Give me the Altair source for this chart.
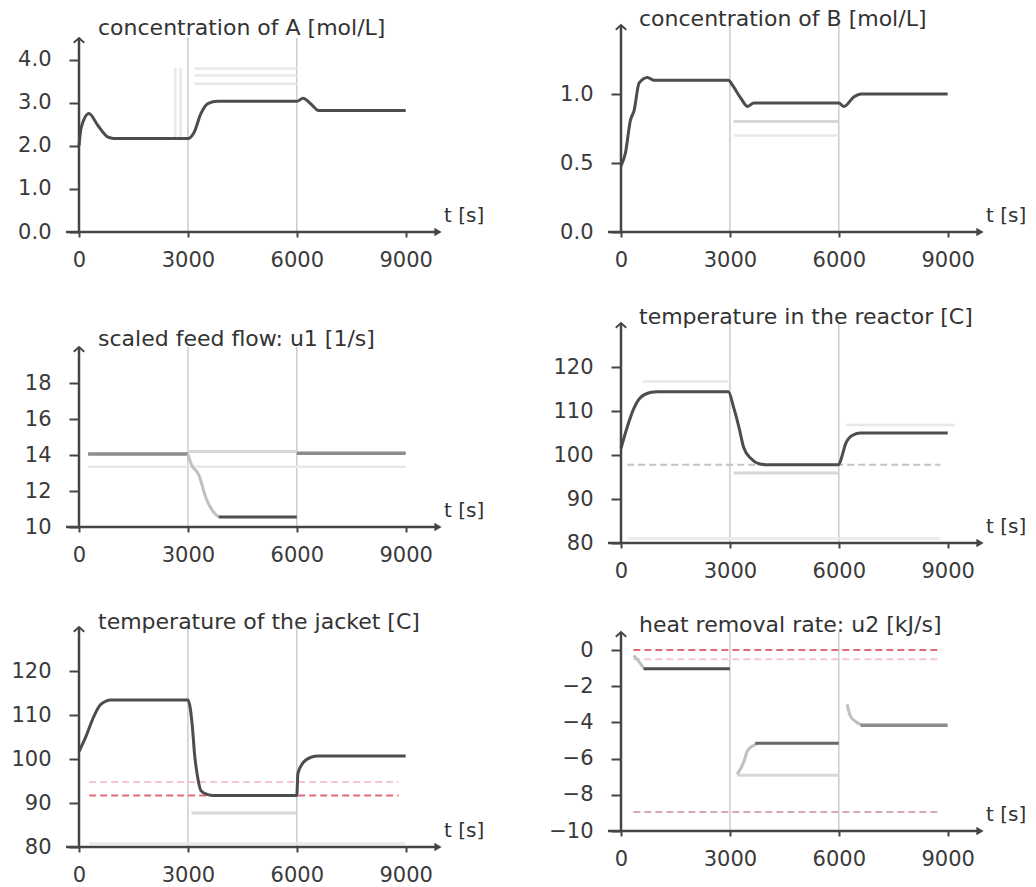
import altair as alt
import pandas as pd

FONT = "DejaVu Sans"

# ---------------- data ----------------
T_TICKS = [0, 3000, 6000, 9000]
GRID_T = [3000, 6000]
X_LABEL = "t [s]"

TITLES = ["concentration of A [mol/L]", "concentration of B [mol/L]",
          "scaled feed flow: u1 [1/s]", "temperature in the reactor [C]",
          "temperature of the jacket [C]", "heat removal rate: u2 [kJ/s]"]
Y_DOMAINS = [[0, 4.5], [0, 1.5], [10, 20], [80, 130], [80, 130], [-10, 1]]
Y_TICKS = [[0, 1, 2, 3, 4], [0, 0.5, 1.0], [10, 12, 14, 16, 18],
           [80, 90, 100, 110, 120], [80, 90, 100, 110, 120], [0, -2, -4, -6, -8, -10]]
Y_FORMATS = [".1f", ".1f", "d", "d", "d", "d"]

# concentration of A
CA_T = [0, 60, 275, 520, 800, 950, 3000, 3170, 3360, 3550, 3820, 6000, 6170, 6390, 6600, 9000]
CA_V = [2.00, 2.42, 2.75, 2.47, 2.20, 2.17, 2.17, 2.31, 2.75, 2.98, 3.03, 3.03, 3.10, 2.97, 2.82, 2.82]
CA_PRED_T = [3170, 6000]
CA_PRED1_V = [3.79, 3.79]
CA_PRED2_V = [3.63, 3.63]
CA_PRED3_V = [3.44, 3.44]
CA_EDGE1_T = [2650, 2650]
CA_EDGE2_T = [2800, 2800]
CA_EDGE_V = [2.2, 3.8]

# concentration of B
CB_T = [0, 120, 260, 360, 500, 730, 900, 2960, 3080, 3300, 3490, 3660, 6000, 6140, 6420, 6610, 9000]
CB_V = [0.48, 0.57, 0.81, 0.88, 1.08, 1.12, 1.10, 1.10, 1.06, 0.97, 0.91, 0.935, 0.935, 0.91, 0.98, 1.00, 1.00]
CB_PRED_T = [3100, 6000]
CB_PRED1_V = [0.80, 0.80]
CB_PRED2_V = [0.70, 0.70]

# feed flow u1
U1_HOLD1_T = [250, 3000]
U1_HOLD1_V = [14.05, 14.05]
U1_DROP_T = [3000, 3100, 3300, 3500, 3680, 3850]
U1_DROP_V = [14.05, 13.46, 12.9, 11.6, 10.9, 10.55]
U1_LOW_T = [3850, 6000]
U1_LOW_V = [10.55, 10.55]
U1_HOLD2_T = [6000, 9000]
U1_HOLD2_V = [14.1, 14.1]
U1_PRED_T = [3000, 6000]
U1_PRED_V = [14.2, 14.2]
U1_LOWER_T = [250, 9000]
U1_LOWER_V = [13.35, 13.35]

# reactor temperature
TR_T = [0, 170, 340, 530, 800, 1000, 2960, 3100, 3250, 3380, 3580, 3800, 4000, 6000, 6050, 6190, 6380, 6600, 9000]
TR_V = [101.5, 106.3, 110.3, 113.0, 114.2, 114.4, 114.4, 110.9, 106.3, 101.7, 99.2, 98.0, 97.8, 97.8, 98.7, 102.6, 104.5, 105.0, 105.0]
TR_REF_T = [170, 8800]
TR_REF_V = [97.8, 97.8]
TR_PRED_T = [3100, 6000]
TR_PRED_V = [95.9, 95.9]
TR_UP1_T = [600, 3000]
TR_UP1_V = [116.7, 116.7]
TR_UP2_T = [6200, 9200]
TR_UP2_V = [106.8, 106.8]
TR_LOW_T = [170, 8800]
TR_LOW_V = [81, 81]

# jacket temperature
TJ_T = [0, 190, 410, 600, 880, 3000, 3130, 3180, 3270, 3360, 3550, 3700, 6000, 6030, 6160, 6390, 6600, 9000]
TJ_V = [101.7, 105.1, 109.7, 112.4, 113.4, 113.4, 106.7, 101.4, 95.8, 92.8, 91.9, 91.7, 91.7, 96.7, 99.0, 100.4, 100.7, 100.7]
TJ_MIN_T = [280, 8800]
TJ_MIN_V = [91.7, 91.7]
TJ_MIN2_V = [94.8, 94.8]
TJ_PRED_T = [3100, 6000]
TJ_PRED_V = [87.7, 87.7]
TJ_LOW_T = [280, 9000]
TJ_LOW_V = [80.8, 80.8]

# heat removal u2
U2_S1_T = [350, 460, 620]
U2_S1_V = [-0.3, -0.55, -0.98]
U2_H1_T = [620, 3000]
U2_H1_V = [-1.03, -1.03]
U2_S2_T = [3200, 3380, 3480, 3650, 3750]
U2_S2_V = [-6.87, -6.2, -5.58, -5.27, -5.17]
U2_H2_T = [3700, 6000]
U2_H2_V = [-5.15, -5.15]
U2_S3_T = [6230, 6320, 6500, 6650]
U2_S3_V = [-3.0, -3.65, -4.0, -4.15]
U2_H3_T = [6600, 9000]
U2_H3_V = [-4.16, -4.16]
U2_PRED_T = [3200, 6000]
U2_PRED_V = [-6.92, -6.92]
U2_LIM_T = [340, 8800]
U2_MAX_V = [0, 0]
U2_MAX2_V = [-0.5, -0.5]
U2_MIN_V = [-8.95, -8.95]

# ---------------- styles ----------------
AXIS = "#454545"
LBL = "#3a3a3a"
STYLES = {
    "main": dict(color="#4d4d4d", strokeWidth=3, interpolate="monotone"),
    "dark2": dict(color="#686868", strokeWidth=3, interpolate="monotone"),
    "mid": dict(color="#8c8c8c", strokeWidth=3.5, interpolate="linear"),
    "light": dict(color="#c0c0c0", strokeWidth=3, interpolate="monotone"),
    "ghost": dict(color="#d8d8d8", strokeWidth=3, interpolate="linear"),
    "faint": dict(color="#e8e8e8", strokeWidth=2.5, interpolate="linear"),
    "red": dict(color="#e06a7c", strokeWidth=2, strokeDash=[7, 4], interpolate="linear"),
    "pink": dict(color="#f4c6ce", strokeWidth=2, strokeDash=[7, 4], interpolate="linear"),
    "refdash": dict(color="#c4c4c4", strokeWidth=2, strokeDash=[7, 4], interpolate="linear"),
    "bounddash": dict(color="#d6aab2", strokeWidth=2, strokeDash=[7, 4], interpolate="linear"),
}

PANEL_LINES = [
    [(CA_PRED_T, CA_PRED1_V, "faint"), (CA_PRED_T, CA_PRED2_V, "faint"), (CA_PRED_T, CA_PRED3_V, "faint"),
     (CA_EDGE1_T, CA_EDGE_V, "faint"), (CA_EDGE2_T, CA_EDGE_V, "faint"), (CA_T, CA_V, "main")],
    [(CB_PRED_T, CB_PRED1_V, "ghost"), (CB_PRED_T, CB_PRED2_V, "faint"), (CB_T, CB_V, "main")],
    [(U1_LOWER_T, U1_LOWER_V, "faint"), (U1_PRED_T, U1_PRED_V, "ghost"),
     (U1_HOLD1_T, U1_HOLD1_V, "mid"), (U1_DROP_T, U1_DROP_V, "light"),
     (U1_LOW_T, U1_LOW_V, "main"), (U1_HOLD2_T, U1_HOLD2_V, "mid")],
    [(TR_LOW_T, TR_LOW_V, "faint"), (TR_UP1_T, TR_UP1_V, "faint"), (TR_UP2_T, TR_UP2_V, "faint"),
     (TR_PRED_T, TR_PRED_V, "ghost"), (TR_REF_T, TR_REF_V, "refdash"), (TR_T, TR_V, "main")],
    [(TJ_LOW_T, TJ_LOW_V, "faint"), (TJ_PRED_T, TJ_PRED_V, "ghost"), (TJ_MIN_T, TJ_MIN2_V, "pink"),
     (TJ_MIN_T, TJ_MIN_V, "red"), (TJ_T, TJ_V, "main")],
    [(U2_LIM_T, U2_MAX2_V, "pink"), (U2_LIM_T, U2_MAX_V, "red"), (U2_LIM_T, U2_MIN_V, "bounddash"),
     (U2_PRED_T, U2_PRED_V, "ghost"), (U2_S1_T, U2_S1_V, "light"), (U2_H1_T, U2_H1_V, "main"),
     (U2_S2_T, U2_S2_V, "light"), (U2_H2_T, U2_H2_V, "dark2"), (U2_S3_T, U2_S3_V, "light"),
     (U2_H3_T, U2_H3_V, "mid")],
]

# ---------------- layout ----------------
W = 363
ROW_H = [207, 227, 220]
Y_RANGES = [[207, 13], [207, 0], [211, 31], [227, 7], [220, 0], [204, 5]]
X_OFFSETS = [0, 0, -16, 0, 0, -16]
TITLE_POS = [(19, 3), (18, -6), (19, 23), (18, 1), (19, -5), (18, -2)]


def make_panel(i):
    ymin, ymax = Y_DOMAINS[i]
    xs = alt.Scale(domain=[0, 10000], nice=False, zero=False)
    ys = alt.Scale(domain=Y_DOMAINS[i], range=Y_RANGES[i], nice=False, zero=False)
    xaxis = alt.Axis(values=T_TICKS, format="d", domain=False, grid=False, title=None,
                     tickSize=5, tickWidth=2, tickColor=AXIS, labelFont=FONT, labelFontSize=21,
                     labelColor=LBL, labelPadding=12, labelFlush=False, labelOverlap=False,
                     offset=X_OFFSETS[i])
    yaxis = alt.Axis(values=Y_TICKS[i], format=Y_FORMATS[i], domain=False, grid=False, title=None,
                     tickSize=10, tickWidth=2, tickColor=AXIS, labelFont=FONT, labelFontSize=21,
                     labelColor=LBL, labelPadding=18, labelFlush=False, labelOverlap=False)

    def X(f="t"):
        return alt.X(f"{f}:Q", scale=xs, axis=xaxis)

    def Y(f="v"):
        return alt.Y(f"{f}:Q", scale=ys, axis=yaxis)

    layers = []
    grid_df = pd.DataFrame({"t": GRID_T, "v": [ymin] * len(GRID_T), "v2": [ymax] * len(GRID_T)})
    layers.append(alt.Chart(grid_df).mark_rule(color="#cccccc", strokeWidth=1.5).encode(
        x=X(), y=Y(), y2=alt.Y2("v2:Q")))

    for t, v, style in PANEL_LINES[i]:
        df = pd.DataFrame({"t": t, "v": v})
        layers.append(alt.Chart(df).mark_line(**STYLES[style]).encode(x=X(), y=Y()))

    base_df = pd.DataFrame({"v": [ymin], "v2": [ymax]})
    top_df = pd.DataFrame({"v": [ymax]})
    # axis lines
    layers.append(alt.Chart(base_df).mark_rule(color=AXIS, strokeWidth=2.5).encode(
        x=alt.value(-13), x2=alt.value(W - 4), y=Y()))
    layers.append(alt.Chart(base_df).mark_rule(color=AXIS, strokeWidth=2.5).encode(
        x=alt.value(0), y=Y(), y2=alt.Y2("v2:Q")))
    # arrowheads
    layers.append(alt.Chart(base_df).mark_point(shape="triangle-right", filled=True, size=70,
                                                color=AXIS, opacity=1).encode(
        x=alt.value(W - 4), y=Y()))
    layers.append(alt.Chart(top_df).mark_point(shape="M-1,0.9L0,0L1,0.9", filled=False, size=110,
                                               color=AXIS, strokeWidth=1.8, opacity=1).encode(
        x=alt.value(0), y=Y()))
    # x label
    lab_df = pd.DataFrame({"v": [ymin], "label": [X_LABEL]})
    layers.append(alt.Chart(lab_df).mark_text(align="left", baseline="middle", dy=-16, font=FONT,
                                              fontSize=20, color="#333333").encode(
        x=alt.value(W + 2), y=Y(), text="label:N"))
    # title
    tx, ty = TITLE_POS[i]
    title_df = pd.DataFrame({"label": [TITLES[i]]})
    layers.append(alt.Chart(title_df).mark_text(align="left", baseline="middle", font=FONT,
                                                fontSize=22, color="#333333").encode(
        x=alt.value(tx), y=alt.value(ty), text="label:N"))

    return alt.layer(*layers).properties(width=W, height=ROW_H[i // 2])


panels = [make_panel(i) for i in range(6)]

chart = alt.concat(*panels, columns=2, spacing={"row": 84, "column": 179}, bounds="flush").properties(
    padding={"left": 10, "top": 8, "right": 0, "bottom": 0}
).configure_view(stroke=None)

chart.save("out.html", embed_options={"renderer": "svg", "actions": False})
